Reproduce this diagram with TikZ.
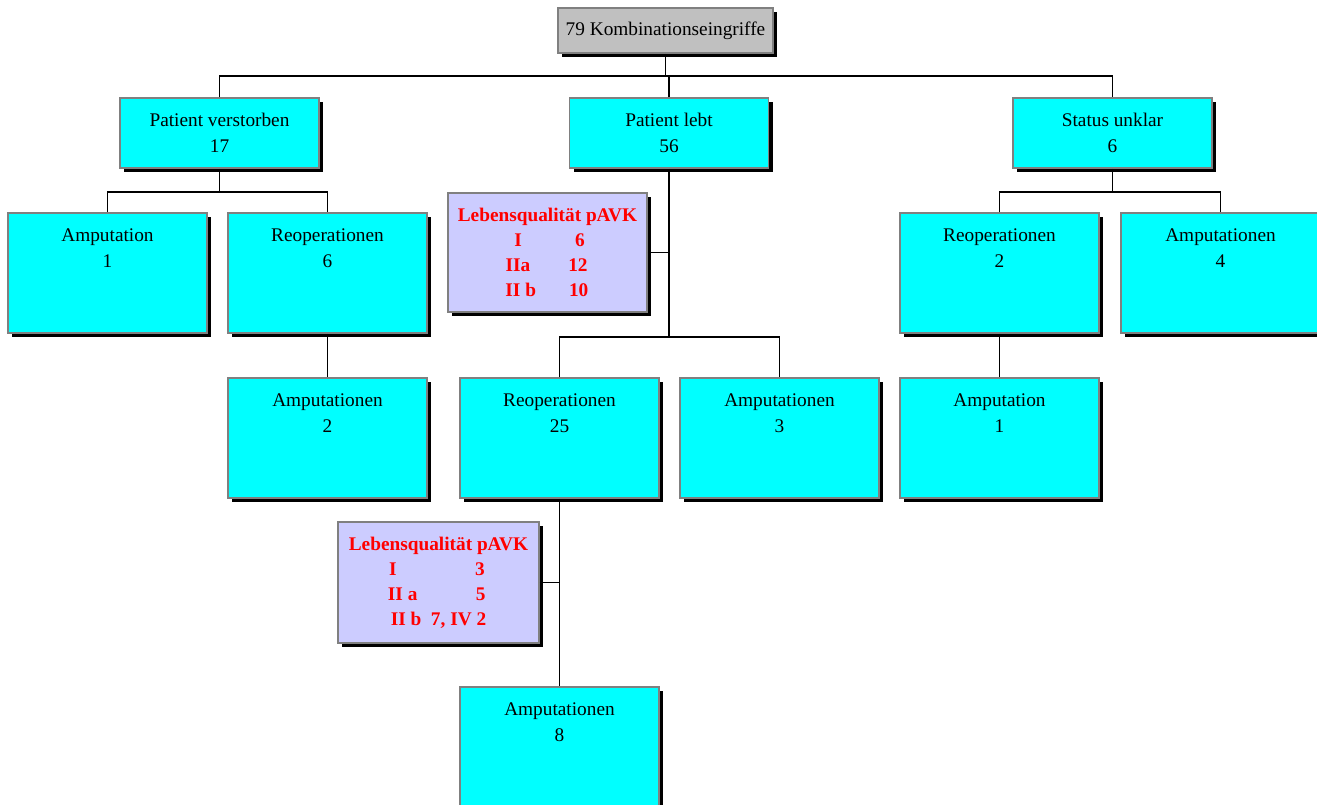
\documentclass[tikz,border=0pt]{standalone}
\usepackage{fontspec}
\setmainfont{Liberation Serif}
\usetikzlibrary{shadows}
\definecolor{boxcyan}{HTML}{00FFFF}
\definecolor{boxlav}{HTML}{CCCCFF}
\definecolor{boxgray}{HTML}{C0C0C0}
\definecolor{edgegray}{HTML}{808080}
\newcommand{\bxtext}[3]{\parbox[t][#2pt][t]{#1pt}{\centering\rule{0pt}{28pt}#3}}
\newcommand{\lqrow}[4]{\makebox[\linewidth][l]{\hspace*{#1pt}\makebox[0pt]{#3}\hspace*{#2pt}\makebox[0pt]{#4}}}
\tikzset{
  shadowed/.style={draw=edgegray, line width=1.5pt, inner sep=0pt,
    drop shadow={shadow xshift=4pt, shadow yshift=-4pt, fill=black, opacity=1}},
  cyanbox/.style={shadowed, fill=boxcyan, font=\fontsize{19.3}{26}\selectfont},
  lavbox/.style={shadowed, fill=boxlav, text=red, font=\fontsize{19.3}{25.3}\selectfont\bfseries},
  topbox/.style={shadowed, fill=boxgray, minimum width=215pt, minimum height=45pt, font=\fontsize{19.3}{26}\selectfont},
  conn/.style={draw=black, line width=1.3pt}
}
\begin{document}
\begin{tikzpicture}[x=1pt,y=-1pt]
\useasboundingbox (0,0) rectangle (1317,804);
\clip (0,0) rectangle (1317,804);
% nodes
\node[topbox] (top) at (665.5,30.5) {79 Kombinationseingriffe};
\node[cyanbox] (pv) at (219.5,133) {\bxtext{199}{70}{Patient verstorben\\17}};
\node[cyanbox] (pl) at (669,133) {\bxtext{199}{70}{Patient lebt\\56}};
\node[cyanbox] (su) at (1112.5,133) {\bxtext{199}{70}{Status unklar\\6}};
\node[cyanbox] (a1) at (107.5,273) {\bxtext{199}{120}{Amputation\\1}};
\node[cyanbox] (r6) at (327.5,273) {\bxtext{199}{120}{Reoperationen\\6}};
\node[cyanbox] (a2) at (327.5,438) {\bxtext{199}{120}{Amputationen\\2}};
\node[cyanbox] (r25) at (559.5,438) {\bxtext{199}{120}{Reoperationen\\25}};
\node[cyanbox] (a3) at (779.5,438) {\bxtext{199}{120}{Amputationen\\3}};
\node[cyanbox] (a8) at (559.5,747) {\bxtext{199}{120}{Amputationen\\8}};
\node[cyanbox] (r2) at (999.5,273) {\bxtext{199}{120}{Reoperationen\\2}};
\node[cyanbox] (a4) at (1220.5,273) {\bxtext{199}{120}{Amputationen\\4}};
\node[cyanbox] (a1r) at (999.5,438) {\bxtext{199}{120}{Amputation\\1}};
\node[lavbox] (lq1) at (547.5,252.5) {\bxtext{199}{119}{Lebensqualität pAVK\\
  \lqrow{70}{62}{I}{6}\\ \lqrow{70}{60}{IIa}{12}\\ \lqrow{72.7}{58}{II b}{10}}};
\node[lavbox] (lq2) at (438.5,582.5) {\bxtext{201}{121}{Lebensqualität pAVK\\
  \lqrow{55}{87}{I}{3}\\ \lqrow{64.7}{78}{II a}{5}\\ II b\ \ 7, IV 2}};
% connectors
\coordinate (j0) at (665.5,76);
\draw[conn] (top.south) -- (j0);
\draw[conn] (pv.north) -- (pv.north |- j0) -- (su.north |- j0) -- (su.north);
\draw[conn] (pl.north) -- (pl.north |- j0);
\coordinate (j1) at (219.5,192);
\draw[conn] (pv.south) -- (j1);
\draw[conn] (a1.north) -- (a1.north |- j1) -- (r6.north |- j1) -- (r6.north);
\draw[conn] (r6.south) -- (a2.north);
\coordinate (j2) at (669,337);
\draw[conn] (pl.south) -- (j2);
\draw[conn] (r25.north) -- (r25.north |- j2) -- (a3.north |- j2) -- (a3.north);
\draw[conn] (lq1.east) -- (lq1.east -| pl.south);
\draw[conn] (r25.south) -- (a8.north);
\draw[conn] (lq2.east) -- (lq2.east -| r25.south);
\coordinate (j3) at (1112.5,192);
\draw[conn] (su.south) -- (j3);
\draw[conn] (r2.north) -- (r2.north |- j3) -- (a4.north |- j3) -- (a4.north);
\draw[conn] (r2.south) -- (a1r.north);
\end{tikzpicture}
\end{document}
